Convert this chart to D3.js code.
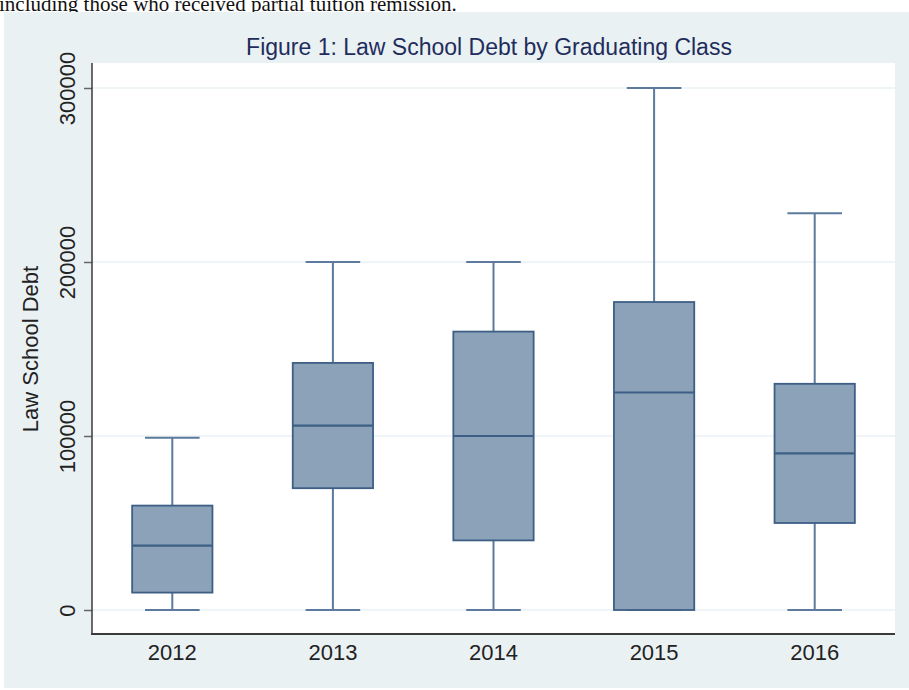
<!DOCTYPE html>
<html>
<head>
<meta charset="utf-8">
<script src="https://cdnjs.cloudflare.com/ajax/libs/d3/7.8.5/d3.min.js"></script>
<style>
  body { margin: 0; background: #fff; }
  svg { display: block; }
</style>
</head>
<body>
<svg id="chart" width="909" height="690"></svg>
<script>
// graduating classes and box summaries
var years = ["2012", "2013", "2014", "2015", "2016"];
var lowWhisker = [0, 0, 0, 0, 0];
var q1 = [10000, 70000, 40000, 0, 50000];
var median = [37000, 106000, 100000, 125000, 90000];
var q3 = [60000, 142000, 160000, 177000, 130000];
var highWhisker = [99000, 200000, 200000, 300000, 228000];
var yTicks = [0, 100000, 200000, 300000];

var boxes = years.map(function(y, i) {
    return { year: y, lo: lowWhisker[i], q1: q1[i], med: median[i], q3: q3[i], hi: highWhisker[i] };
});

var svg = d3.select("#chart");

// cut-off line of body text above the figure
svg.append("text")
    .attr("x", -1).attr("y", 11)
    .style("font-family", "'Liberation Serif', 'Times New Roman', serif")
    .style("font-size", "21px")
    .attr("fill", "#111")
    .text("including those who received partial tuition remission.");

// graph background
svg.append("rect")
    .attr("x", 4).attr("y", 12).attr("width", 905).attr("height", 676)
    .attr("fill", "#eaf1f3");

var plotLeft = 92, plotRight = 895, plotTop = 63, plotBottom = 634;

svg.append("rect")
    .attr("x", plotLeft).attr("y", plotTop)
    .attr("width", plotRight - plotLeft).attr("height", plotBottom - plotTop)
    .attr("fill", "#fff");

var x = d3.scaleBand().domain(years).range([plotLeft, plotRight]);
var y = d3.scaleLinear().domain([0, 300000]).range([610, 88]);

// grid lines
svg.append("g").selectAll("line")
    .data(yTicks)
    .enter().append("line")
    .attr("x1", plotLeft).attr("x2", plotRight)
    .attr("y1", function(d) { return y(d); })
    .attr("y2", function(d) { return y(d); })
    .attr("stroke", "#eaf1f3")
    .attr("stroke-width", 1.5);

var boxW = x.bandwidth() * 0.5;
var capW = x.bandwidth() * 0.34;
var whiskerColor = "#5b7a9c";
var edgeColor = "#3d5f86";

var g = svg.append("g").selectAll(".box")
    .data(boxes)
    .enter().append("g")
    .attr("class", "box")
    .attr("transform", function(d) { return "translate(" + (x(d.year) + x.bandwidth() / 2) + ",0)"; });

// whiskers
g.append("line")
    .attr("x1", 0).attr("x2", 0)
    .attr("y1", function(d) { return y(d.q3); })
    .attr("y2", function(d) { return y(d.hi); })
    .attr("stroke", whiskerColor).attr("stroke-width", 2);
g.append("line")
    .attr("x1", 0).attr("x2", 0)
    .attr("y1", function(d) { return y(d.q1); })
    .attr("y2", function(d) { return y(d.lo); })
    .attr("stroke", whiskerColor).attr("stroke-width", 2);
g.append("line")
    .attr("x1", -capW / 2).attr("x2", capW / 2)
    .attr("y1", function(d) { return y(d.hi); })
    .attr("y2", function(d) { return y(d.hi); })
    .attr("stroke", whiskerColor).attr("stroke-width", 2);
g.append("line")
    .attr("x1", -capW / 2).attr("x2", capW / 2)
    .attr("y1", function(d) { return y(d.lo); })
    .attr("y2", function(d) { return y(d.lo); })
    .attr("stroke", whiskerColor).attr("stroke-width", 2);

// boxes
g.append("rect")
    .attr("x", -boxW / 2)
    .attr("width", boxW)
    .attr("y", function(d) { return y(d.q3); })
    .attr("height", function(d) { return y(d.q1) - y(d.q3); })
    .attr("fill", "#8ca2b8")
    .attr("stroke", edgeColor)
    .attr("stroke-width", 1.8);

g.append("line")
    .attr("x1", -boxW / 2).attr("x2", boxW / 2)
    .attr("y1", function(d) { return y(d.med); })
    .attr("y2", function(d) { return y(d.med); })
    .attr("stroke", edgeColor).attr("stroke-width", 2.2);

// y axis
var yAxis = svg.append("g")
    .attr("transform", "translate(" + plotLeft + ",0)")
    .call(d3.axisLeft(y).tickValues(yTicks).tickSize(8).tickPadding(9).tickFormat(d3.format("d")));
yAxis.select(".domain").remove();
yAxis.selectAll(".tick line").attr("stroke", "#666").attr("stroke-width", 1.5);
yAxis.selectAll(".tick text")
    .attr("transform", "rotate(-90)")
    .attr("x", 0).attr("y", -17)
    .attr("dy", 0)
    .attr("text-anchor", "middle")
    .style("font-family", "'Liberation Sans', Arial, sans-serif")
    .style("font-size", "22px")
    .attr("fill", "#222");

svg.append("line")
    .attr("x1", plotLeft).attr("x2", plotLeft)
    .attr("y1", plotTop).attr("y2", plotBottom)
    .attr("stroke", "#3a3a3a").attr("stroke-width", 1.5);

// x axis
var xAxis = svg.append("g")
    .attr("transform", "translate(0," + plotBottom + ")")
    .call(d3.axisBottom(x).tickSize(0).tickPadding(10));
xAxis.select(".domain").remove();
xAxis.selectAll(".tick text")
    .attr("dy", "0.71em")
    .style("font-family", "'Liberation Sans', Arial, sans-serif")
    .style("font-size", "22px")
    .attr("fill", "#222");

svg.append("line")
    .attr("x1", plotLeft - 1).attr("x2", plotRight)
    .attr("y1", plotBottom).attr("y2", plotBottom)
    .attr("stroke", "#3a3a3a").attr("stroke-width", 2);

// axis title
svg.append("text")
    .attr("transform", "translate(38,349) rotate(-90)")
    .attr("text-anchor", "middle")
    .style("font-family", "'Liberation Sans', Arial, sans-serif")
    .style("font-size", "22px")
    .attr("fill", "#222")
    .text("Law School Debt");

// title
svg.append("text")
    .attr("x", 489).attr("y", 55)
    .attr("text-anchor", "middle")
    .style("font-family", "'Liberation Sans', Arial, sans-serif")
    .style("font-size", "23px")
    .attr("fill", "#1f2d5c")
    .text("Figure 1: Law School Debt by Graduating Class");
</script>
</body>
</html>
